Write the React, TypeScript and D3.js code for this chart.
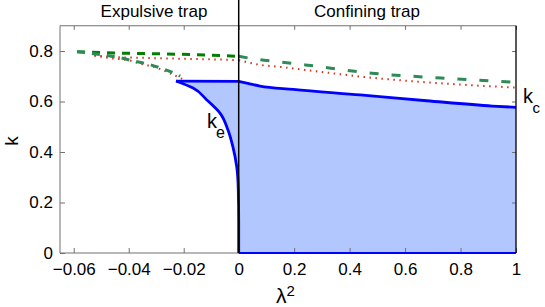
import { useRef, useEffect } from 'react';
import * as d3 from 'd3';

const W = 545;
const H = 307;
const FONT = '"Liberation Sans", Arial, Helvetica, sans-serif';

// tick values / labels
const xTicks = [-0.06, -0.04, -0.02, 0, 0.2, 0.4, 0.6, 0.8, 1];
const xTickLabels = ['\u22120.06', '\u22120.04', '\u22120.02', '0', '0.2', '0.4', '0.6', '0.8', '1'];
const yTicks = [0, 0.2, 0.4, 0.6, 0.8];
const yTickLabels = ['0', '0.2', '0.4', '0.6', '0.8'];

// [lambda^2, k]
const keLeft = [
  [-0.0228, 0.681], [-0.0166, 0.653], [-0.0116, 0.606], [-0.0068, 0.554],
  [-0.0039, 0.487], [-0.0021, 0.42], [-0.0007, 0.34], [-0.00015, 0.25],
  [0, 0.12], [0, 0],
];
const keTop = [[-0.0228, 0.681], [0, 0.68]];
const kcRight = [
  [0, 0.68], [0.033, 0.672], [0.077, 0.661], [0.197, 0.648], [0.438, 0.626],
  [0.678, 0.603], [0.915, 0.582], [1, 0.577],
];
const baseLine = [[0, 0], [1, 0]];

const greenUpperNeg = [[-0.0588, 0.797], [-0.045, 0.792], [-0.03, 0.789], [-0.015, 0.785], [0, 0.779]];
const greenLowerNeg = [
  [-0.0588, 0.797], [-0.0553, 0.793], [-0.0493, 0.784], [-0.0439, 0.775], [-0.0384, 0.761],
  [-0.033, 0.748], [-0.028, 0.731], [-0.0225, 0.707], [-0.0213, 0.7],
];
const greenPos = [[0, 0.779], [0.065, 0.767], [0.14, 0.758], [0.24, 0.745], [0.48, 0.712], [0.73, 0.693], [1, 0.676]];

const redUpperNeg = [[-0.0525, 0.782], [-0.045, 0.776], [-0.035, 0.773], [-0.02, 0.769], [-0.01, 0.767], [0, 0.764]];
const redLowerNeg = [
  [-0.0525, 0.782], [-0.047, 0.772], [-0.0395, 0.762], [-0.0366, 0.752],
  [-0.0297, 0.733], [-0.0261, 0.717], [-0.0203, 0.688],
];
const redPos = [[0, 0.764], [0.077, 0.745], [0.14, 0.738], [0.24, 0.725], [0.48, 0.694], [0.73, 0.672], [1, 0.655]];

const x = d3.scaleLinear().domain([-0.065, 0, 1]).range([60, 238.7, 516]);
const y = d3.scaleLinear().domain([0, 0.9]).range([253, 25.75]);

const lineX = d3.line<number[]>().x((d) => x(d[0])).y((d) => y(d[1])).curve(d3.curveMonotoneX);
const lineY = d3.line<number[]>().x((d) => x(d[0])).y((d) => y(d[1])).curve(d3.curveMonotoneY);
const lineStraight = d3.line<number[]>().x((d) => x(d[0])).y((d) => y(d[1]));

const leftFill = d3.area<number[]>()
  .y((d) => y(d[1]))
  .x0((d) => x(d[0]))
  .x1(() => x(0))
  .curve(d3.curveMonotoneY);
const rightFill = d3.area<number[]>()
  .x((d) => x(d[0]))
  .y0(y(0))
  .y1((d) => y(d[1]))
  .curve(d3.curveMonotoneX);

const GRAY = '#707070';

export default function App() {
  const svgRef = useRef<SVGSVGElement>(null);

  useEffect(() => {
    const svg = d3.select(svgRef.current);
    const style = (g: any) => {
      g.select('.domain').remove();
      g.selectAll('line').attr('stroke', GRAY);
      g.selectAll('text').attr('fill', '#000').style('font-size', '17px').style('font-family', FONT);
    };
    svg.select('.x-axis')
      .attr('transform', `translate(0,${y(0)})`)
      .call(d3.axisBottom(x).tickValues(xTicks).tickFormat((d, i) => xTickLabels[i]).tickSizeInner(-5).tickSizeOuter(0).tickPadding(10) as any)
      .call(style);
    svg.select('.y-axis')
      .attr('transform', `translate(${x(-0.065)},0)`)
      .call(d3.axisLeft(y).tickValues(yTicks).tickFormat((d, i) => yTickLabels[i]).tickSizeInner(-5).tickSizeOuter(0).tickPadding(7) as any)
      .call(style);
    svg.select('.x-top')
      .attr('transform', `translate(0,${y(0.9)})`)
      .call(d3.axisTop(x).tickValues(xTicks).tickFormat(() => '').tickSizeInner(-4).tickSizeOuter(0) as any)
      .call(style);
    svg.select('.y-right')
      .attr('transform', `translate(${x(1)},0)`)
      .call(d3.axisRight(y).tickValues(yTicks).tickFormat(() => '').tickSizeInner(-4).tickSizeOuter(0) as any)
      .call(style);
  }, []);

  return (
    <svg ref={svgRef} width={W} height={H} style={{ position: 'absolute', left: 0, top: 0, fontFamily: FONT }}>
      <rect width={W} height={H} fill="#fff" />
      <path d={leftFill(keLeft) ?? ''} fill="#b3c7ff" />
      <path d={rightFill(kcRight) ?? ''} fill="#b3c7ff" />

      <g className="x-axis" />
      <g className="y-axis" />
      <g className="x-top" />
      <g className="y-right" />
      <line x1={x(-0.065)} x2={x(1)} y1={y(0)} y2={y(0)} stroke={GRAY} />
      <line x1={x(-0.065)} x2={x(1)} y1={y(0.9)} y2={y(0.9)} stroke={GRAY} />
      <line x1={x(-0.065)} x2={x(-0.065)} y1={y(0)} y2={y(0.9)} stroke={GRAY} />

      <path d={lineY(keLeft) ?? ''} fill="none" stroke="#0000ff" strokeWidth={2.8} />
      <path d={lineStraight(keTop) ?? ''} fill="none" stroke="#0000ff" strokeWidth={2.8} />
      <path d={lineX(kcRight) ?? ''} fill="none" stroke="#0000ff" strokeWidth={2.8} />
      <path d={lineStraight(baseLine) ?? ''} fill="none" stroke="#0000ff" strokeWidth={2} />

      <path d={lineX(redUpperNeg) ?? ''} fill="none" stroke="#d0341a" strokeWidth={2} strokeDasharray="1.5,4.5" />
      <path d={lineX(redLowerNeg) ?? ''} fill="none" stroke="#d0341a" strokeWidth={2} strokeDasharray="1.5,4.5" />
      <path d={lineX(redPos) ?? ''} fill="none" stroke="#d0341a" strokeWidth={2} strokeDasharray="1.5,4.5" />

      <path d={lineX(greenUpperNeg) ?? ''} fill="none" stroke="#008000" strokeWidth={3} strokeDasharray="8,7" />
      <path d={lineX(greenLowerNeg) ?? ''} fill="none" stroke="#2e8b57" strokeWidth={3} strokeDasharray="8,7" />
      <path d={lineX(greenPos) ?? ''} fill="none" stroke="#2e8b57" strokeWidth={3} strokeDasharray="9,13" />

      <line x1={x(0)} x2={x(0)} y1={0} y2={y(0)} stroke="#000" strokeWidth={1.5} />
      <line x1={x(1)} x2={x(1)} y1={y(0)} y2={y(0.9)} stroke="#000" strokeWidth={1.3} />

      <text x={154} y={17} textAnchor="middle" fontSize={17}>Expulsive trap</text>
      <text x={367} y={17} textAnchor="middle" fontSize={17}>Confining trap</text>

      <text transform="translate(18,141) rotate(-90)" textAnchor="middle" fontSize={19}>k</text>
      <text x={276} y={303} fontSize={21}>
        λ<tspan fontSize={15} dy={-7}>2</tspan>
      </text>

      <text x={207} y={128} fontSize={20}>k</text>
      <text x={216} y={138} fontSize={16}>e</text>
      <text x={523} y={103} fontSize={20}>k</text>
      <text x={532.5} y={112.5} fontSize={15}>c</text>
    </svg>
  );
}
